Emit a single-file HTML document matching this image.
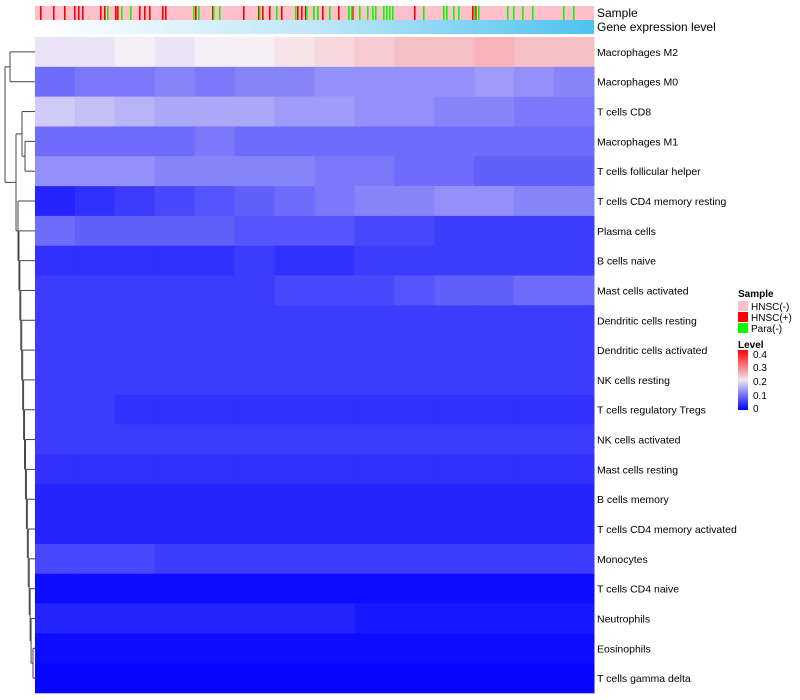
<!DOCTYPE html>
<html><head><meta charset="utf-8"><style>
body{margin:0;background:#fff;width:800px;height:700px;overflow:hidden;font-family:"Liberation Sans",sans-serif}
svg{display:block}
</style></head><body>
<svg id="chart" width="800" height="700" xmlns="http://www.w3.org/2000/svg">
<defs>
<linearGradient id="geneGrad" x1="0" x2="1" y1="0" y2="0"><stop offset="0" stop-color="#ffffff"/><stop offset="0.5" stop-color="#bfe6f8"/><stop offset="1" stop-color="#4cc3ef"/></linearGradient>
<linearGradient id="levelGrad" x1="0" x2="0" y1="0" y2="1"><stop offset="0" stop-color="#ff0000"/><stop offset="0.5" stop-color="#efe9ef"/><stop offset="1" stop-color="#0000ff"/></linearGradient>
</defs>
<g id="dendro"></g>
<g id="annot"></g>
<g id="cells"></g>
<g id="labels"></g>
<g font-size="10">
<text x="738" y="297" font-weight="bold">Sample</text>
<rect x="738" y="301" width="10" height="10" fill="#ffc0cb"/>
<text x="751" y="310">HNSC(-)</text>
<rect x="738" y="312" width="10" height="10" fill="#ff0000"/>
<text x="751" y="321">HNSC(+)</text>
<rect x="738" y="323" width="10" height="10" fill="#00ff00"/>
<text x="751" y="332">Para(-)</text>
<text x="738" y="348" font-weight="bold">Level</text>
<rect x="738" y="350" width="10" height="60" fill="url(#levelGrad)"/>
<text x="753" y="358">0.4</text>
<text x="753" y="371">0.3</text>
<text x="753" y="385">0.2</text>
<text x="753" y="399">0.1</text>
<text x="753" y="412">0</text>
</g>
</svg>
<script>
const rowNames=["Macrophages M2","Macrophages M0","T cells CD8","Macrophages M1","T cells follicular helper","T cells CD4 memory resting","Plasma cells","B cells naive","Mast cells activated","Dendritic cells resting","Dendritic cells activated","NK cells resting","T cells regulatory  Tregs","NK cells activated","Mast cells resting","B cells memory","T cells CD4 memory activated","Monocytes","T cells CD4 naive","Neutrophils","Eosinophils","T cells gamma delta"];
const rowValues=[
[0.19,0.19,0.2,0.19,0.2,0.2,0.21,0.22,0.23,0.24,0.24,0.25,0.24,0.24],
[0.09,0.1,0.1,0.11,0.1,0.11,0.11,0.12,0.12,0.12,0.12,0.13,0.12,0.11],
[0.17,0.16,0.15,0.14,0.14,0.14,0.13,0.13,0.12,0.12,0.11,0.11,0.1,0.1],
[0.09,0.09,0.09,0.09,0.1,0.09,0.09,0.09,0.09,0.09,0.09,0.09,0.09,0.09],
[0.12,0.12,0.12,0.11,0.11,0.11,0.11,0.1,0.1,0.09,0.09,0.08,0.08,0.08],
[0.03,0.04,0.05,0.06,0.07,0.08,0.09,0.1,0.11,0.11,0.12,0.12,0.11,0.11],
[0.09,0.08,0.08,0.08,0.08,0.07,0.07,0.07,0.06,0.06,0.05,0.05,0.05,0.05],
[0.04,0.04,0.04,0.04,0.04,0.05,0.04,0.04,0.05,0.05,0.05,0.05,0.05,0.05],
[0.05,0.05,0.05,0.05,0.05,0.05,0.06,0.06,0.06,0.07,0.08,0.08,0.09,0.09],
[0.05,0.05,0.05,0.05,0.05,0.05,0.05,0.05,0.05,0.05,0.05,0.05,0.05,0.05],
[0.05,0.05,0.05,0.05,0.05,0.05,0.05,0.05,0.05,0.05,0.05,0.05,0.05,0.05],
[0.05,0.05,0.05,0.05,0.05,0.05,0.05,0.05,0.05,0.05,0.05,0.05,0.05,0.05],
[0.05,0.05,0.04,0.04,0.04,0.04,0.04,0.04,0.04,0.04,0.04,0.04,0.04,0.04],
[0.05,0.05,0.05,0.05,0.05,0.05,0.05,0.05,0.05,0.05,0.05,0.05,0.05,0.05],
[0.04,0.04,0.04,0.04,0.04,0.04,0.04,0.04,0.04,0.04,0.04,0.04,0.04,0.04],
[0.03,0.03,0.03,0.03,0.03,0.03,0.03,0.03,0.03,0.03,0.03,0.03,0.03,0.03],
[0.03,0.03,0.03,0.03,0.03,0.03,0.03,0.03,0.03,0.03,0.03,0.03,0.03,0.03],
[0.06,0.06,0.06,0.05,0.05,0.05,0.05,0.05,0.05,0.05,0.05,0.05,0.05,0.05],
[0.01,0.01,0.01,0.01,0.01,0.01,0.01,0.01,0.01,0.01,0.01,0.01,0.01,0.01],
[0.03,0.03,0.03,0.03,0.03,0.03,0.03,0.03,0.02,0.02,0.02,0.02,0.02,0.02],
[0.01,0.01,0.01,0.01,0.01,0.01,0.01,0.01,0.01,0.01,0.01,0.01,0.01,0.01],
[0.005,0.005,0.005,0.005,0.005,0.005,0.005,0.005,0.005,0.005,0.005,0.005,0.005,0.005]];
const nSamples=559;
const hnscPosSamples=[5,18,29,39,43,47,65,69,80,82,104,109,114,127,130,160,177,208,223,227,234,246,262,266,270,278,282,287,303,317,379,437,440];
const paraNegSamples=[72,86,95,158,163,178,184,224,241,260,271,278,282,294,313,316,324,332,337,340,348,351,354,357,388,408,411,418,423,439,443,472,478,487,497,528,538];
const SVGNS="http://www.w3.org/2000/svg";
const X0=35,X1=594,Y0=37,Y1=693;
const rowH=(Y1-Y0)/rowNames.length;
function xScale(i){return X0+(X1-X0)*i/nSamples;}
function yScale(r){return Y0+r*rowH;}
function color(v){
  const t=Math.max(0,Math.min(1,v/0.4));
  let r,g,b;
  if(t<0.5){const u=t/0.5;r=245*u;g=240*u;b=255-10*u;}
  else{const u=(t-0.5)/0.5;r=245+10*u;g=240*(1-u);b=245*(1-u);}
  return `rgb(${Math.round(r)},${Math.round(g)},${Math.round(b)})`;
}
function mk(tag,attrs,parent){const e=document.createElementNS(SVGNS,tag);for(const k in attrs)e.setAttribute(k,attrs[k]);parent.appendChild(e);return e;}
const annot=document.getElementById('annot');
let bg=mk('rect',{x:X0,y:6,width:X1-X0,height:14,fill:'#ffc0cb'},annot);


hnscPosSamples.forEach(s=>{const e=mk('rect',{x:xScale(s),y:6,width:1.6,height:14,fill:'#ff0000'},annot);

});
paraNegSamples.forEach(s=>{const e=mk('rect',{x:xScale(s),y:6,width:1.6,height:14,fill:'#00ff00'},annot);

});
let gb=mk('rect',{x:X0,y:20,width:X1-X0,height:14,fill:'url(#geneGrad)'},annot);


let t1=mk('text',{x:597,y:17,'font-size':12},annot);t1.textContent='Sample';


let t2=mk('text',{x:597,y:31,'font-size':12},annot);t2.textContent='Gene expression level';


const cells=document.getElementById('cells');
const labels=document.getElementById('labels');
rowValues.forEach((vals,r)=>{
  const segW=(X1-X0)/vals.length;
  vals.forEach((v,c)=>{
    const e=mk('rect',{x:X0+c*segW,y:yScale(r),width:segW+0.5,height:rowH+0.3,fill:color(v)},cells);
    
    
  });
  const t=mk('text',{x:597,y:yScale(r)+rowH/2+4,'font-size':10.5},labels);
  t.textContent=rowNames[r];
  
  
});
const d=document.getElementById('dendro');
function ln(x1,y1,x2,y2){const e=mk('line',{x1,y1,x2,y2,stroke:'#444','stroke-width':1},d);

}
const cy=r=>yScale(r)+rowH/2;
ln(35,cy(0),10,cy(0));ln(35,cy(1),10,cy(1));ln(10,cy(0),10,cy(1));
const topNode=(cy(0)+cy(1))/2;
ln(35,cy(3),25,cy(3));ln(35,cy(4),25,cy(4));ln(25,cy(3),25,cy(4));
const n45=(cy(3)+cy(4))/2;
ln(35,cy(2),22,cy(2));ln(25,n45,22,n45);ln(22,cy(2),22,n45);
const n345=(cy(2)+n45)/2;
let prevX=33,prevY=(cy(20)+cy(21))/2;
ln(35,cy(20),33,cy(20));ln(35,cy(21),33,cy(21));ln(33,cy(20),33,cy(21));
for(let r=19;r>=5;r--){
  const x=18+(r-5)*(14/15);
  ln(35,cy(r),x,cy(r));ln(prevX,prevY,x,prevY);ln(x,cy(r),x,prevY);
  prevY=(cy(r)+prevY)/2;prevX=x;
}
ln(22,n345,16,n345);ln(prevX,prevY,16,prevY);ln(16,n345,16,prevY);
const mid=(n345+prevY)/2;
ln(10,topNode,5,topNode);ln(16,mid,5,mid);ln(5,topNode,5,mid);
</script>
</body></html>
